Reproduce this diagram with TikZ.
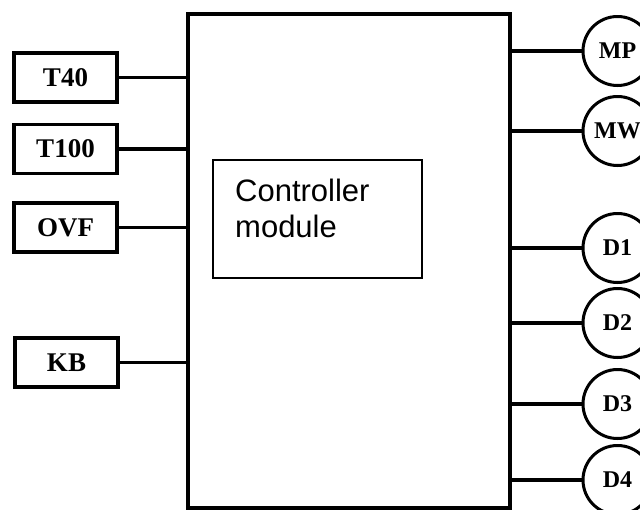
\documentclass[tikz,border=0pt]{standalone}
\usepackage{fontspec}
\setmainfont{Liberation Serif}
\newfontfamily\arialfont{Liberation Sans}
\begin{document}
\begin{tikzpicture}[x=1pt, y=-1pt,
    inbox/.style={draw, line width=3.5pt, minimum width=103pt, minimum height=49pt,
      inner sep=0pt, font=\fontsize{27}{30}\selectfont\bfseries},
    outcirc/.style={draw, circle, line width=3pt, minimum size=69pt,
      inner sep=0pt, font=\fontsize{24}{26}\selectfont\bfseries},
    wire/.style={line width=3.5pt}]
    \useasboundingbox (0,0) rectangle (640,509);
    \clip (0,0) rectangle (640,509);

    % controller block
    \node[draw, line width=4pt, minimum width=322pt, minimum height=494pt, inner sep=0pt] (main) at (349,261) {};
    \node[draw, line width=1.8pt, minimum width=209pt, minimum height=118pt, inner sep=0pt] (ctrl) at (317.5,219) {};
    \node[anchor=base west, align=left, inner sep=0pt, font=\arialfont\fontsize{31}{36}\selectfont] (ctrltext) at (235,237) {Controller\\module};

    % inputs
    \node[inbox] (t40)  at (65.5,77.5)  {T40};
    \node[inbox] (t100) at (65.5,149)   {T100};
    \node[inbox] (ovf)  at (65.5,227.5) {OVF};
    \node[inbox] (kb)   at (66.5,362.5) {KB};

    % outputs
    \node[outcirc] (mp) at (617.5,51)  {MP};
    \node[outcirc] (mw) at (617.5,131) {MW};
    \node[outcirc] (d1) at (617.5,248) {D1};
    \node[outcirc] (d2) at (617.5,323) {D2};
    \node[outcirc] (d3) at (617.5,404) {D3};
    \node[outcirc] (d4) at (617.5,480) {D4};

    \foreach \n in {t40,t100,ovf,kb}
      \draw[wire] (\n.east) -- (\n.east -| main.west);
    \foreach \n in {mp,mw,d1,d2,d3,d4}
      \draw[wire] (\n.west -| main.east) -- (\n.west);
  \end{tikzpicture}
\end{document}
